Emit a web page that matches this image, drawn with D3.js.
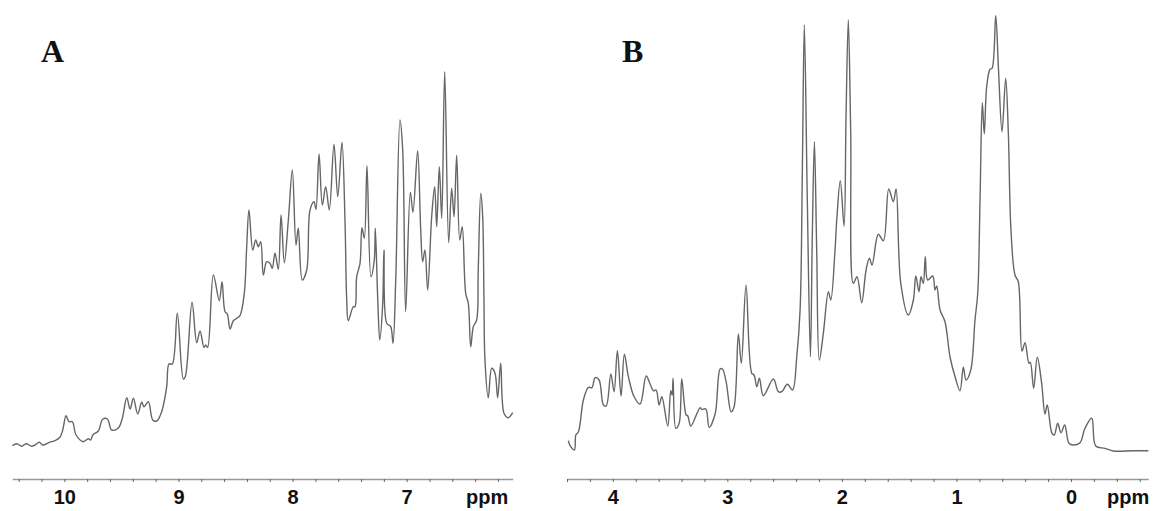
<!DOCTYPE html>
<html>
<head>
<meta charset="utf-8">
<script src="https://cdnjs.cloudflare.com/ajax/libs/d3/7.9.0/d3.min.js"></script>
<style>
  html, body { margin: 0; padding: 0; background: #fff; }
  svg { display: block; }
  .tick text { font-family: "Liberation Sans", Arial, sans-serif; font-weight: bold; font-size: 20px; fill: #111; }
</style>
</head>
<body>
<svg id="chart" width="1153" height="511">
  <defs>
    <filter id="soft" x="-2%" y="-2%" width="104%" height="104%">
      <feGaussianBlur stdDeviation="0.35"></feGaussianBlur>
    </filter>
  </defs>
</svg>
<script>
// aromatic region (panel A)
const ppmA = [10.456,10.417,10.373,10.336,10.286,10.257,10.219,10.189,10.131,10.081,10.038,10.014,9.985,9.959,9.930,9.897,9.834,9.790,9.769,9.751,9.702,9.664,9.623,9.585,9.527,9.492,9.453,9.424,9.395,9.357,9.322,9.302,9.264,9.225,9.190,9.147,9.103,9.083,9.054,9.010,8.957,8.940,8.881,8.840,8.811,8.776,8.761,8.744,8.694,8.642,8.618,8.592,8.572,8.548,8.519,8.489,8.461,8.423,8.402,8.382,8.349,8.323,8.300,8.279,8.256,8.227,8.198,8.178,8.154,8.125,8.101,8.072,8.037,8.002,7.970,7.950,7.915,7.876,7.847,7.812,7.795,7.768,7.739,7.710,7.678,7.637,7.604,7.567,7.540,7.526,7.512,7.468,7.453,7.438,7.409,7.392,7.371,7.348,7.313,7.284,7.275,7.254,7.236,7.210,7.199,7.175,7.140,7.120,7.096,7.059,7.035,7.009,6.968,6.945,6.904,6.877,6.860,6.840,6.816,6.781,6.755,6.737,6.714,6.693,6.667,6.632,6.606,6.585,6.562,6.535,6.513,6.483,6.460,6.439,6.416,6.387,6.373,6.351,6.334,6.323,6.314,6.285,6.255,6.226,6.203,6.176,6.147,6.110,6.071];
const intensityA = [33.3,35.3,32.7,35.3,32.7,34,36.7,34,36.7,38.3,41.7,49,63.3,57.3,57.3,44,37.3,40.3,39,44,48,59.7,60,49,51,60.7,81.3,70,80.7,65,76.7,72.3,77.3,59,58,67.3,92.3,115,115,165.7,100,102.3,176.7,136.3,148,131.7,134,131.7,204,178.3,197.3,167.3,165,150,158.3,160.7,163.3,185.7,232.3,269,229,239,232.3,237.3,204,217.3,215.7,210.7,225.7,209.7,264,216.3,259,309,234,250.7,199,209,269,277.3,269.7,325,274,292.3,269,334.7,282.3,336.7,255.7,181,158.3,172.3,172.3,202.3,215.7,251.3,240.7,313.3,202.3,219,250.7,181,139,175.7,229,155.7,152.3,135.7,199,359,329,167.3,286.7,266.7,328.3,249,217.3,229,189,262.3,292.3,252.3,312.3,260.7,407.3,236.3,290.7,262.3,323.7,239,252.3,185.7,175.7,132.3,152.3,159,209,285.7,262.3,181,119,81.3,110.7,105.7,81.3,115.7,65.7,61.3,66.3];

// aliphatic region (panel B)
const ppmB = [4.388,4.373,4.335,4.323,4.300,4.257,4.213,4.183,4.154,4.120,4.082,4.058,4.017,3.989,3.960,3.928,3.899,3.864,3.814,3.762,3.709,3.674,3.646,3.622,3.596,3.572,3.520,3.494,3.482,3.474,3.450,3.421,3.398,3.360,3.345,3.319,3.238,3.223,3.188,3.159,3.107,3.063,3.043,3.011,2.967,2.941,2.904,2.878,2.837,2.787,2.767,2.743,2.720,2.686,2.598,2.555,2.525,2.476,2.431,2.394,2.365,2.345,2.328,2.302,2.275,2.258,2.240,2.220,2.197,2.162,2.118,2.097,2.060,2.045,2.014,1.981,1.964,1.944,1.923,1.900,1.868,1.827,1.789,1.760,1.737,1.682,1.638,1.591,1.551,1.527,1.486,1.420,1.376,1.355,1.327,1.309,1.289,1.272,1.251,1.207,1.187,1.172,1.143,1.100,1.056,1.012,0.969,0.940,0.916,0.875,0.838,0.814,0.794,0.774,0.757,0.736,0.707,0.689,0.657,0.634,0.602,0.570,0.547,0.524,0.489,0.460,0.428,0.401,0.367,0.355,0.326,0.294,0.256,0.227,0.207,0.166,0.146,0.116,0.087,0.055,0.017,-0.020,-0.079,-0.122,-0.181,-0.216,-0.297,-0.369,-0.544,-0.675];
const intensityB = [38.3,33.3,29,44,47.3,79,91.7,91.3,101.3,99,74,73,105,87.3,128.3,83,124.7,102.3,82.3,75,103,95,88.3,89,74,82.3,53,88.3,84,100.7,50.7,55.7,100,64,63,53,71.3,69.7,70,51.7,65,110,110,97.3,67.3,72.3,145,115.7,194,105.7,104,92.3,100.7,83.3,100,87.3,87.3,94.7,89,122.3,169,312.3,454,279,122.3,246,337.3,229,119,145.7,187.3,179,229,259,298.3,253,362.3,459,346,195.7,202.3,176.3,209,220.7,214,244.7,238.3,290,277.3,290,195.7,164,179,203,187.3,202.3,195.7,222.3,199,203,189,193,169,157.3,122,102.3,88.3,111.7,99,109,159,186,279,376.3,345,392.3,409.7,410.7,463.3,412.3,347.3,400.7,346,249,204,197.3,128,136.3,115.7,116.7,90.7,121.7,95.7,65,74,45.7,44,55.7,46.3,54,35.7,34,36.3,50.7,60.7,33,30.7,28,28.3,28.3];

const ticksA = [10.4,10.2,10,9.8,9.6,9.4,9.2,9,8.8,8.6,8.4,8.2,8,7.8,7.6,7.4,7.2,7,6.8,6.6,6.4,6.2];
const ticksB = [4.4,4.2,4,3.8,3.6,3.4,3.2,3,2.8,2.6,2.4,2.2,2,1.8,1.6,1.4,1.2,1,0.8,0.6,0.4,0.2,0,-0.2,-0.4,-0.6];
const labelsA = [10,9,8,7];
const labelsB = [4,3,2,1,0];

const svg = d3.select("#chart");

const y = d3.scaleLinear().domain([0, 470]).range([479, 9]);

function drawPanel(name, ppm, intensity, ticks, labels, domain, range, namePos, unitX) {
  const x = d3.scaleLinear().domain(domain).range(range);
  const line = d3.line()
    .x((d, i) => x(ppm[i]))
    .y((d) => y(d))
    .curve(d3.curveCatmullRom.alpha(0.5));

  svg.append("path")
    .attr("d", line(intensity))
    .attr("fill", "none")
    .attr("stroke", "#666")
    .attr("stroke-width", 1.4)
    .attr("stroke-linejoin", "round")
    .attr("filter", "url(#soft)");

  const axis = d3.axisBottom(x)
    .tickValues(ticks)
    .tickSize(3)
    .tickSizeOuter(0)
    .tickFormat((d) => (labels.includes(d) ? d : ""));

  svg.append("g")
    .attr("transform", "translate(0,479)")
    .call(axis)
    .call((g) => g.select(".domain").attr("stroke", "#999").attr("stroke-width", 1.6))
    .call((g) => g.selectAll(".tick line").attr("stroke", "#666"))
    .call((g) => g.selectAll(".tick text").attr("dy", 0).attr("y", 25));

  svg.append("text")
    .attr("x", unitX)
    .attr("y", 504)
    .attr("font-family", '"Liberation Sans", Arial, sans-serif')
    .attr("font-weight", "bold")
    .attr("font-size", 20)
    .attr("fill", "#111")
    .text("ppm");

  svg.append("text")
    .attr("x", namePos[0])
    .attr("y", namePos[1])
    .attr("font-family", '"Liberation Serif", "Times New Roman", serif')
    .attr("font-weight", "bold")
    .attr("font-size", 32)
    .attr("fill", "#111")
    .text(name);
}

drawPanel("A", ppmA, intensityA, ticksA, labelsA, [10.456, 6.071], [12.3, 512.7], [41, 62], 466);
drawPanel("B", ppmB, intensityB, ticksB, labelsB, [4.4, -0.675], [567, 1148.3], [622, 62], 1107);
</script>
</body>
</html>
